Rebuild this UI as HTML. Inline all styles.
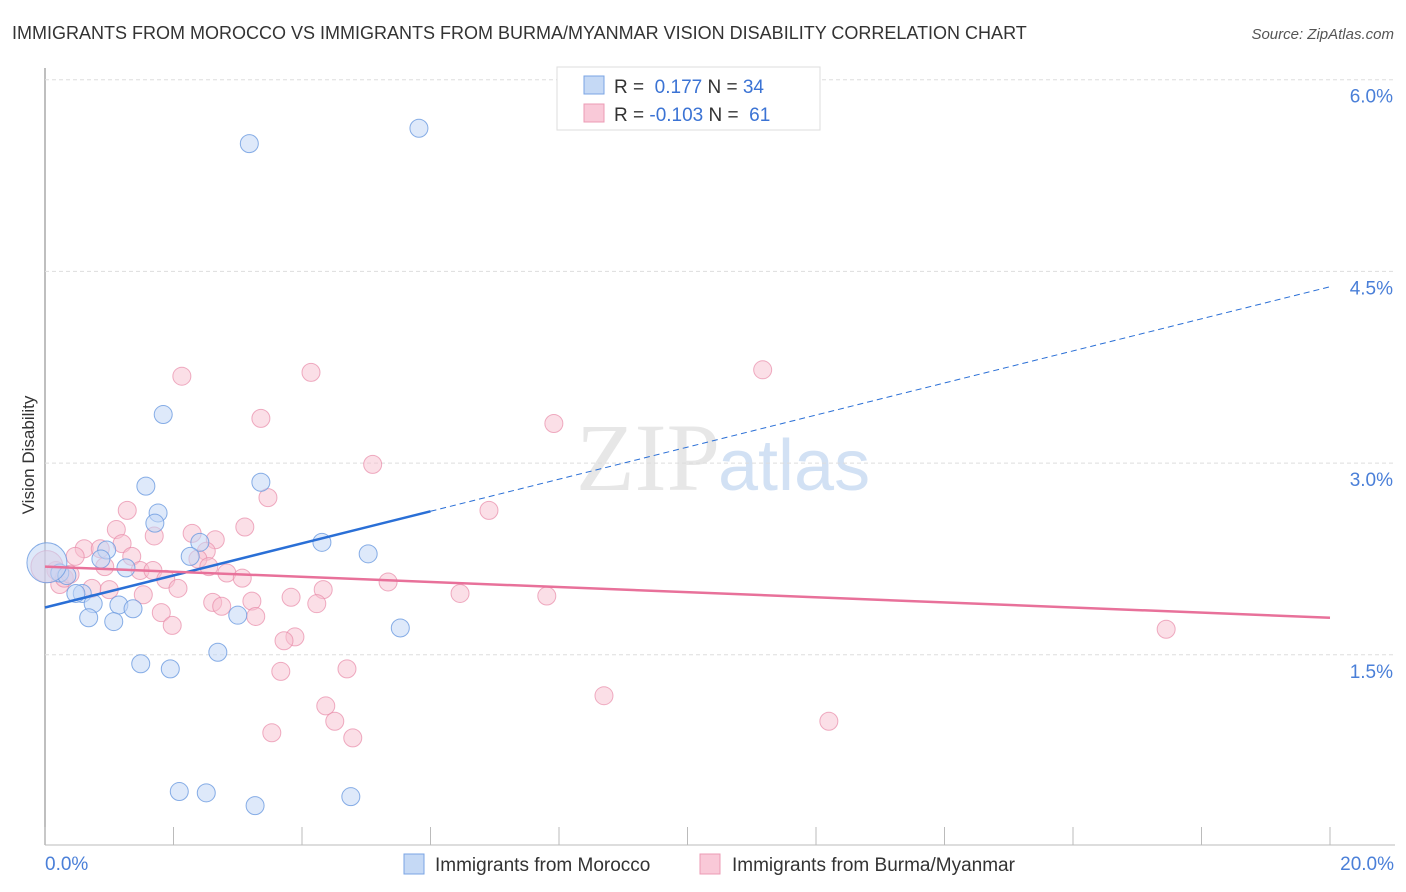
<!DOCTYPE html>
<html><head><meta charset="utf-8"><style>
body{margin:0;background:#fff;font-family:"Liberation Sans",sans-serif}
svg{display:block}
</style></head><body>
<svg id="c" width="1406" height="892">
<text x="12" y="39" font-size="18" fill="#333">IMMIGRANTS FROM MOROCCO VS IMMIGRANTS FROM BURMA/MYANMAR VISION DISABILITY CORRELATION CHART</text>
<text x="1394" y="39" font-size="15" fill="#555" font-style="italic" text-anchor="end">Source: ZipAtlas.com</text>
<text x="34" y="455" font-size="17" fill="#333" transform="rotate(-90 34 455)" text-anchor="middle">Vision Disability</text>
<text x="720" y="490" font-size="96" fill="#ddd" text-anchor="end" font-family="Liberation Serif,serif" opacity="0.7">ZIP</text>
<text x="718" y="490" font-size="72" fill="#c8daf2" opacity="0.8">atlas</text>
<g id="grid"></g><g id="marks"></g>
<g>
<rect x="557" y="67" width="263" height="63" fill="#fff" stroke="#ddd"/>
<rect x="584" y="76" width="20" height="18" fill="#c5d9f5" stroke="#7aa4e4"/>
<rect x="584" y="104" width="20" height="18" fill="#f9c9d8" stroke="#ec9bb5"/>
<text x="614" y="93" font-size="19" fill="#333">R = <tspan fill="#3b73d4">&#160;0.177</tspan>   N = <tspan fill="#3b73d4">34</tspan></text>
<text x="614" y="121" font-size="19" fill="#333">R = <tspan fill="#3b73d4">-0.103</tspan>   N = <tspan fill="#3b73d4">&#160;61</tspan></text>
</g>
<g>
<rect x="404" y="854" width="20" height="20" fill="#c5d9f5" stroke="#7aa4e4"/>
<text x="435" y="871" font-size="19" fill="#333">Immigrants from Morocco</text>
<rect x="700" y="854" width="20" height="20" fill="#f9c9d8" stroke="#ec9bb5"/>
<text x="732" y="871" font-size="19" fill="#333">Immigrants from Burma/Myanmar</text>
</g>
</svg>
<script>
const xTicks=[0,2,4,6,8,10,12,14,16,18,20];
const yTicks=[1.5,3.0,4.5,6.0];
const yTickLabels=["1.5%","3.0%","4.5%","6.0%"];
const moroccoX=[3.18,5.82,1.84,1.57,3.36,1.76,1.71,2.41,2.26,4.31,5.03,0.96,0.87,1.26,0.23,0.34,0.58,0.48,0.75,1.15,1.37,0.68,1.07,3.00,5.53,2.69,1.49,1.95,2.09,2.51,3.27,4.76,0.03];
const moroccoY=[5.50,5.62,3.38,2.82,2.85,2.61,2.53,2.38,2.27,2.38,2.29,2.32,2.25,2.18,2.14,2.12,1.98,1.98,1.90,1.89,1.86,1.79,1.76,1.81,1.71,1.52,1.43,1.39,0.43,0.42,0.32,0.39,2.22];
const burmaX=[2.13,4.14,3.36,11.17,7.92,5.10,3.47,6.91,1.28,3.11,1.11,1.70,2.29,2.65,1.20,0.61,0.86,0.47,1.35,2.51,2.38,0.93,1.48,1.68,2.55,2.83,3.07,1.88,2.07,5.34,4.33,0.73,1.00,1.53,3.83,6.46,7.81,2.61,2.75,3.22,4.23,1.81,3.28,1.98,3.89,3.72,17.45,3.67,4.70,8.70,4.37,4.51,12.20,3.53,4.79,0.17,0.23,0.30,0.39,0.03];
const burmaY=[3.68,3.71,3.35,3.73,3.31,2.99,2.73,2.63,2.63,2.50,2.48,2.43,2.45,2.40,2.37,2.33,2.33,2.27,2.27,2.31,2.25,2.19,2.16,2.16,2.19,2.14,2.10,2.09,2.02,2.07,2.01,2.02,2.01,1.97,1.95,1.98,1.96,1.91,1.88,1.92,1.90,1.83,1.80,1.73,1.64,1.61,1.70,1.37,1.39,1.18,1.10,0.98,0.98,0.89,0.85,2.16,2.05,2.10,2.13,2.19];
const moroccoTrend=[1.87,4.38]; // at x=0 and x=20
const burmaTrend=[2.19,1.79];
const sx=v=>45+v/20*1285, sy=v=>846.5-v/1.5*191.7;
const NS="http://www.w3.org/2000/svg";
const grid=document.getElementById('grid'), marks=document.getElementById('marks');
function mk(p,tag,a){const e=document.createElementNS(NS,tag);for(const k in a)e.setAttribute(k,a[k]);p.appendChild(e);return e;}
let ax=mk(grid,'line',{x1:45,y1:68,x2:45,y2:845,stroke:'#aaa','stroke-width':1.5});


let bx=mk(grid,'line',{x1:45,y1:845,x2:1395,y2:845,stroke:'#bbb'});


yTicks.forEach((t,i)=>{
 const g=mk(grid,'line',{x1:45,x2:1395,y1:sy(t),y2:sy(t),stroke:'#ddd','stroke-dasharray':'4 3'});
 
 
 const tx=mk(grid,'text',{x:1393,y:sy(t)+23,'font-size':19,fill:'#4a7fd8','text-anchor':'end'});tx.textContent=yTickLabels[i];
 
 
});
xTicks.forEach(t=>{
 const l=mk(grid,'line',{x1:sx(t),x2:sx(t),y1:827,y2:845,stroke:'#bbb'});
 
 
});
[[0,"0.0%",'start',45],[20,"20.0%",'end',1394]].forEach(a=>{const t=mk(grid,'text',{x:a[3],y:870,'font-size':19,fill:'#4a7fd8','text-anchor':a[2]});t.textContent=a[1];
 
 });
burmaX.forEach((x,i)=>{const c=mk(marks,'circle',{cx:sx(x),cy:sy(burmaY[i]),r:i==burmaX.length-1?16:9,fill:'#f7bfd0','fill-opacity':0.5,stroke:'#e88aa8','stroke-opacity':0.7});
 
 });
moroccoX.forEach((x,i)=>{const c=mk(marks,'circle',{cx:sx(x),cy:sy(moroccoY[i]),r:i==moroccoX.length-1?20:9,fill:'#c2d7f5','fill-opacity':0.55,stroke:'#6a9ae0','stroke-opacity':0.8});
 
 });
const my=x=>moroccoTrend[0]+(moroccoTrend[1]-moroccoTrend[0])*x/20;
let t1=mk(marks,'line',{x1:sx(0),y1:sy(my(0)),x2:sx(6),y2:sy(my(6)),stroke:'#2a6fd6','stroke-width':2.5});


let t2=mk(marks,'line',{x1:sx(6),y1:sy(my(6)),x2:sx(20),y2:sy(my(20)),stroke:'#2a6fd6','stroke-width':1,'stroke-dasharray':'6 4'});


let t3=mk(marks,'line',{x1:sx(0),y1:sy(burmaTrend[0]),x2:sx(20),y2:sy(burmaTrend[1]),stroke:'#e8719a','stroke-width':2.5});


</script>
</body></html>
